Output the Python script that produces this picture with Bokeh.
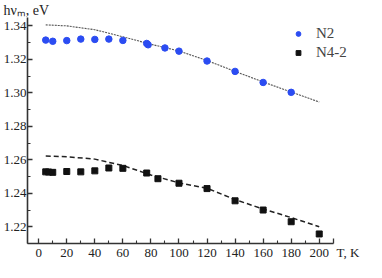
from bokeh.plotting import figure
from bokeh.models import (Range1d, SingleIntervalTicker, FixedTicker,
                          PrintfTickFormatter, Legend, LegendItem, Title)
from bokeh.embed import file_html
from bokeh.resources import INLINE

# N2 (blue circles)
t_n2 = [5, 10, 20, 30, 40, 50, 60, 77, 78, 90, 100, 120, 140, 160, 180]
e_n2 = [1.3315, 1.3308, 1.3312, 1.3321, 1.3319, 1.3321, 1.3313, 1.3295, 1.3287,
        1.3268, 1.3249, 1.3190, 1.3128, 1.3062, 1.3003]
# N2 fit (dotted)
t_n2_fit = [5, 20, 40, 60, 80, 100, 120, 140, 160, 180, 200]
e_n2_fit = [1.3406, 1.3400, 1.3377, 1.3335, 1.3290, 1.3250, 1.3193, 1.3128,
            1.3065, 1.3005, 1.2945]

# N4-2 (black squares)
t_n4 = [5, 7, 10, 20, 30, 40, 50, 60, 77, 85, 100, 120, 140, 160, 180, 200]
e_n4 = [1.2528, 1.2527, 1.2525, 1.2530, 1.2528, 1.2534, 1.2551, 1.2549, 1.2521,
        1.2487, 1.2460, 1.2428, 1.2355, 1.2300, 1.2230, 1.2157]
# N4-2 fit (dashed)
t_n4_fit = [5, 20, 40, 60, 80, 100, 120, 140, 160, 180, 200]
e_n4_fit = [1.2623, 1.2618, 1.2604, 1.2566, 1.2509, 1.2462, 1.2430, 1.2362,
            1.2306, 1.2255, 1.2200]

x_major = [0, 20, 40, 60, 80, 100, 120, 140, 160, 180, 200, 210]
x_minor = [10, 30, 50, 70, 90, 110, 130, 150, 170, 190]
y_title = "hνₘ, eV"
x_title = "T, K"

FONT = "Times"
AX = "#333333"
TXT = "#222222"

p = figure(width=366, height=262, output_backend="svg", toolbar_location=None,
           x_range=Range1d(-8, 228), y_range=Range1d(1.21, 1.345),
           min_border_left=0, min_border_right=8, min_border_top=0,
           min_border_bottom=0)
p.outline_line_color = None
p.xgrid.visible = False
p.ygrid.visible = False

p.title = Title(text=y_title, align="left", offset=-24, standoff=0,
                text_font=FONT, text_font_size="14px", text_font_style="normal",
                text_color=TXT)

for ax in (p.xaxis[0], p.yaxis[0]):
    ax.axis_line_color = AX
    ax.axis_line_width = 1.6
    ax.major_tick_line_color = AX
    ax.minor_tick_line_color = AX
    ax.major_tick_line_width = 1.3
    ax.minor_tick_line_width = 1.1
    ax.major_tick_in = 5
    ax.major_tick_out = 0
    ax.minor_tick_in = 3
    ax.minor_tick_out = 0
    ax.major_label_text_font = FONT
    ax.major_label_text_font_size = "13px"
    ax.major_label_text_color = TXT
    ax.major_label_standoff = 1

p.xaxis[0].bounds = (-8, 210)
p.xaxis[0].ticker = FixedTicker(ticks=x_major, minor_ticks=x_minor)
p.xaxis[0].major_label_overrides = {210: "\u00a0" * 9 + x_title}
p.yaxis[0].ticker = SingleIntervalTicker(interval=0.02, num_minor_ticks=2)
p.yaxis[0].formatter = PrintfTickFormatter(format="%.2f")

p.line(t_n2_fit, e_n2_fit, line_color="#555555", line_width=1.1, line_dash="2 1")
p.line(t_n4_fit, e_n4_fit, line_color="#222222", line_width=1.5, line_dash="5 3")

r1 = p.scatter(t_n2, e_n2, marker="circle", size=6.5, fill_color="#2b4cf2",
               line_color="#2b4cf2")
r2 = p.scatter(t_n4, e_n4, marker="square", size=6, fill_color="#111111",
               line_color="#111111")

legend = Legend(items=[LegendItem(label="N2", renderers=[r1]),
                       LegendItem(label="N4-2", renderers=[r2])],
                location=(265, 182), border_line_alpha=0,
                background_fill_alpha=0, label_text_font=FONT,
                label_text_font_size="15px", glyph_width=12, glyph_height=17,
                label_height=17, label_standoff=12, spacing=2, padding=0,
                margin=0)
p.add_layout(legend)

open("out.html", "w").write(file_html(p, INLINE))
